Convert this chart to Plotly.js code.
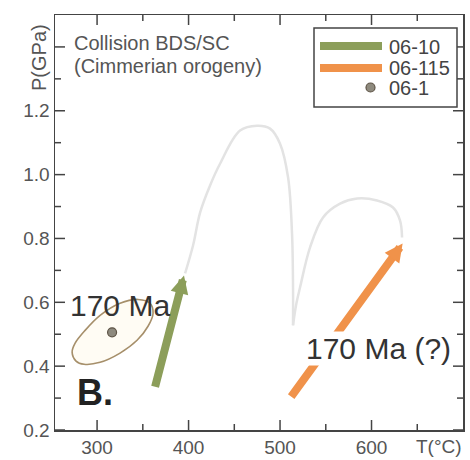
<!DOCTYPE html>
<html><head><meta charset="utf-8">
<script src="https://cdn.plot.ly/plotly-3.0.1.min.js"></script>
<style>html,body{margin:0;padding:0;background:#fff}</style>
</head><body><div id="chart" style="width:470px;height:460px"></div>
<script>
// ---- data ----
const seriesNames = ['06-10', '06-115', '06-1'];
const greenT = [363, 395];
const greenP = [0.331, 0.684];
const orangeT = [511, 634];
const orangeP = [0.300, 0.784];
const sampleT = [316.4];
const sampleP = [0.506];
const ellipseT = [272.7, 277.0, 285.8, 303.3, 325.1, 343.7, 355.7, 361.2, 357.9, 344.8, 325.1, 303.3, 286.9, 276.0, 272.7];
const ellipseP = [0.444, 0.416, 0.406, 0.412, 0.441, 0.481, 0.525, 0.566, 0.597, 0.609, 0.597, 0.559, 0.512, 0.472, 0.444];
const loop1T = [396.2, 404.9, 412.6, 423.5, 434.4, 456.3, 474.9, 489.1, 500.0, 508.8, 513.1, 514.2, 514.2];
const loop1P = [0.691, 0.778, 0.881, 0.966, 1.034, 1.138, 1.153, 1.144, 1.097, 0.991, 0.816, 0.647, 0.528];
const loop2T = [514.2, 517.5, 521.9, 532.8, 547.0, 565.6, 584.2, 606.0, 623.5, 631.2, 633.4];
const loop2P = [0.528, 0.591, 0.647, 0.772, 0.866, 0.909, 0.925, 0.919, 0.897, 0.856, 0.803];
const xTickVals = [300, 400, 500, 600];
const xTickText = ['300', '400', '500', '600'];
const xMinorVals = [350, 450, 550, 650];
const yTickVals = [0.2, 0.4, 0.6, 0.8, 1.0, 1.2, 1.4];
const yTickText = ['0.2', '0.4', '0.6', '0.8', '1.0', '1.2', ''];
const yMinorVals = [0.3, 0.5, 0.7, 0.9, 1.1, 1.3];
const ageLabels = ['170 Ma', '170 Ma (?)'];

const GREEN = '#8c9e5a', ORANGE = '#f0924a', DOT = '#8e8a7e', DOTLINE = '#5e5446';
const AX = '#444', TXT = '#555';
const FONT = 'Liberation Sans, Arial, sans-serif';

const traces = [
  {x: loop1T, y: loop1P, mode: 'lines', line: {color: '#e3e3e3', width: 2.5, shape: 'spline'}, hoverinfo: 'skip'},
  {x: loop2T, y: loop2P, mode: 'lines', line: {color: '#e3e3e3', width: 2.5, shape: 'spline'}, hoverinfo: 'skip'},
  {x: ellipseT, y: ellipseP, mode: 'lines', fill: 'toself', fillcolor: '#fffcf4',
   line: {color: '#a68f6a', width: 1.6, shape: 'spline'}, hoverinfo: 'skip'},
  {x: sampleT, y: sampleP, name: seriesNames[2], mode: 'markers',
   marker: {size: 9, color: DOT, line: {color: DOTLINE, width: 1.2}}}
];

function arrow(T, P, color) {
  return {x: T[1], y: P[1], ax: T[0], ay: P[0], xref: 'x', yref: 'y', axref: 'x', ayref: 'y',
    text: '', showarrow: true, arrowhead: 2, arrowsize: 0.45, arrowwidth: 8, arrowcolor: color, standoff: 0};
}
// plot area in px: x 55..463 (408 px), y 15..430 (415 px)
const px = v => (v - 55) / 408;
const py = v => (430 - v) / 415;

function legendText(txt, yPix) {
  return {x: px(387), y: py(yPix), xref: 'paper', yref: 'paper', xanchor: 'left', yanchor: 'middle',
    text: txt, showarrow: false, font: {size: 20, color: '#444'}};
}

// inside tick marks on all four sides, placed on the axis scales
const tickShapes = [];
function xTick(v, len) {
  const s = {type: 'line', xref: 'x', yref: 'paper', x0: v, x1: v, line: {color: AX, width: 1.5}, layer: 'above'};
  tickShapes.push(Object.assign({}, s, {y0: 0, y1: len / 415}));
  tickShapes.push(Object.assign({}, s, {y0: 1, y1: 1 - len / 415}));
}
function yTick(v, len) {
  const s = {type: 'line', xref: 'paper', yref: 'y', y0: v, y1: v, line: {color: AX, width: 1.5}, layer: 'above'};
  tickShapes.push(Object.assign({}, s, {x0: 0, x1: len / 408}));
  tickShapes.push(Object.assign({}, s, {x0: 1, x1: 1 - len / 408}));
}
xTickVals.forEach(v => xTick(v, 10));
xMinorVals.forEach(v => xTick(v, 6));
yTickVals.forEach(v => yTick(v, 10));
yMinorVals.forEach(v => yTick(v, 6));

const layout = {
  width: 470, height: 460,
  margin: {l: 55, r: 7, t: 15, b: 30},
  paper_bgcolor: '#fff', plot_bgcolor: '#fff',
  font: {family: FONT, color: TXT, size: 19},
  showlegend: false,
  xaxis: {range: [254, 700], showgrid: false, zeroline: false, showline: true, linecolor: AX, linewidth: 1.5,
    mirror: true, ticks: '', tickmode: 'array', tickvals: xTickVals, ticktext: xTickText,
    tickfont: {size: 19, color: TXT}},
  yaxis: {range: [0.2, 1.5], showgrid: false, zeroline: false, showline: true, linecolor: AX, linewidth: 1.5,
    mirror: true, ticks: '', tickmode: 'array', tickvals: yTickVals, ticktext: yTickText,
    tickfont: {size: 19, color: TXT}},
  shapes: tickShapes.concat([
    {type: 'rect', xref: 'paper', yref: 'paper', x0: px(314), x1: px(457), y0: py(107), y1: py(28),
     line: {color: AX, width: 1.5}, fillcolor: '#fff', layer: 'above'},
    {type: 'line', xref: 'paper', yref: 'paper', x0: px(320), x1: px(382), y0: py(46), y1: py(46),
     line: {color: GREEN, width: 8}, layer: 'above'},
    {type: 'line', xref: 'paper', yref: 'paper', x0: px(320), x1: px(382), y0: py(68), y1: py(68),
     line: {color: ORANGE, width: 8}, layer: 'above'},
    {type: 'circle', xref: 'paper', yref: 'paper', x0: px(366), x1: px(375), y0: py(92), y1: py(83),
     line: {color: DOTLINE, width: 1.2}, fillcolor: DOT, layer: 'above'}
  ]),
  annotations: [
    arrow(greenT, greenP, GREEN),
    arrow(orangeT, orangeP, ORANGE),
    {x: 325, y: 0.59, xref: 'x', yref: 'y', xanchor: 'center', yanchor: 'middle', text: ageLabels[0], showarrow: false,
     font: {size: 30, color: '#333'}},
    {x: 608, y: 0.455, xref: 'x', yref: 'y', xanchor: 'center', yanchor: 'middle', text: ageLabels[1], showarrow: false,
     font: {size: 30, color: '#333'}, bgcolor: '#fff', borderpad: 0},
    {x: 298, y: 0.316, xref: 'x', yref: 'y', xanchor: 'center', yanchor: 'middle', text: '<b>B.</b>', showarrow: false,
     font: {size: 36, color: '#222'}},
    {x: px(72), xref: 'paper', y: py(30), yref: 'paper', xanchor: 'left', yanchor: 'top',
     text: 'Collision BDS/SC', showarrow: false, font: {size: 20, color: TXT}},
    {x: px(72), xref: 'paper', y: py(53), yref: 'paper', xanchor: 'left', yanchor: 'top',
     text: '(Cimmerian orogeny)', showarrow: false, font: {size: 20, color: TXT}},
    {x: px(39), xref: 'paper', y: py(58), yref: 'paper', xanchor: 'center', yanchor: 'middle', textangle: -90,
     text: 'P(GPa)', showarrow: false, font: {size: 20, color: TXT}},
    {x: px(439), xref: 'paper', y: py(446), yref: 'paper', xanchor: 'center', yanchor: 'middle',
     text: 'T(°C)', showarrow: false, font: {size: 19, color: TXT}},
    legendText(seriesNames[0], 47),
    legendText(seriesNames[1], 68),
    legendText(seriesNames[2], 88)
  ]
};

Plotly.newPlot('chart', traces, layout, {displayModeBar: false, staticPlot: true});
</script>
</body></html>
